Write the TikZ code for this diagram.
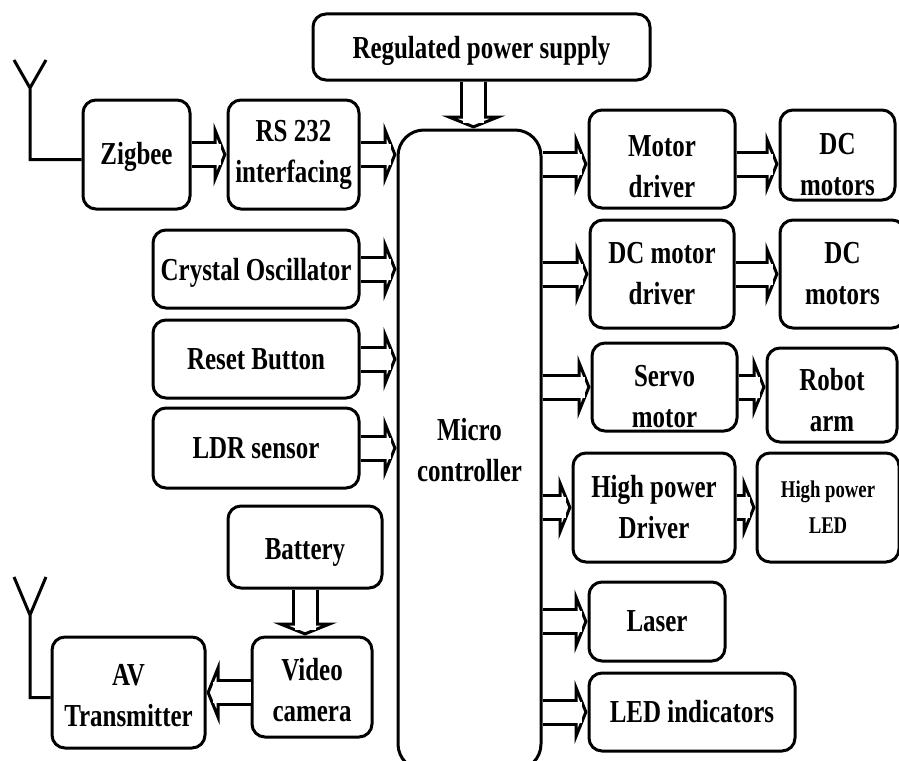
\documentclass[tikz,border=0pt]{standalone}
\usepackage{fontspec}
\setmainfont{Liberation Serif}[FakeStretch=0.78]
\usetikzlibrary{positioning}
\usetikzlibrary{arrows.meta}
\newcommand{\textdrop}[1]{\rule{0pt}{#1pt}}

\begin{document}
\begin{tikzpicture}[x=1pt,y=-1pt,on grid,
        block/.style={draw,line width=3pt,rounded corners=13pt,align=center,inner sep=0pt,
                font=\fontsize{32}{41}\selectfont\bfseries},
        blockarrow/.style={draw=black,line width=27pt,
                -{Triangle[length=13pt,width=64pt,line width=3pt,fill=white]},
                postaction={draw=white,line width=21pt,-,shorten >=6pt}},
        antenna/.style={draw,line width=3pt,line join=miter}]
                \useasboundingbox (0,0) rectangle (899,760);
                \clip (0,0) rectangle (899,760);
                \node[block,minimum width=337pt,minimum height=66pt] (power) at (481.5,47) {\textdrop{30}Regulated power supply};
                \node[block,minimum width=143pt,minimum height=640pt,rounded corners=26pt] (micro) at (469.5,450) {Micro\\controller};
                \node[block,minimum width=107pt,minimum height=109pt] (zigbee) at (136.5,154.5) {\textdrop{28}Zigbee};
                \node[block,minimum width=131pt,minimum height=109pt] [right=157pt of zigbee] (rs) {RS 232\\interfacing};
                \node[block,minimum width=206pt,minimum height=78pt] [below left=114.5pt and 37.5pt of rs] (crystal) {\textdrop{30}Crystal Oscillator};
                \node[block,minimum width=206pt,minimum height=78pt] [below=90pt of crystal] (reset) {Reset Button};
                \node[block,minimum width=206pt,minimum height=80pt] [below=89pt of reset] (ldr) {LDR sensor};
                \node[block,minimum width=154pt,minimum height=82pt] (battery) at (305,547) {\textdrop{32}Battery};
                \node[block,minimum width=120pt,minimum height=100pt] (video) at (312,687) {\textdrop{28}Video\\camera};
                \node[block,minimum width=153pt,minimum height=111pt] (av) at (128.5,692.5) {\textdrop{28}AV\\Transmitter};
                \node[block,minimum width=146pt,minimum height=98pt] (motor) at (662,159) {\textdrop{36}Motor\\driver};
                \node[block,minimum width=115pt,minimum height=90pt] (dca) at (837.5,155) {\textdrop{40}DC\\motors};
                \node[block,minimum width=144pt,minimum height=108pt] [below=115pt of motor] (dcdriver) {DC motor\\driver};
                \node[block,minimum width=125pt,minimum height=108pt] (dcb) at (842.5,274) {DC\\motors};
                \node[block,minimum width=145pt,minimum height=88pt] (servo) at (664.5,387) {\textdrop{40}Servo\\motor};
                \node[block,minimum width=130pt,minimum height=94pt] (robot) at (832,395) {\textdrop{33}Robot\\arm};
                \node[block,minimum width=162pt,minimum height=109pt] (highdriver) at (654,507.5) {High power\\Driver};
                \node[block,minimum width=142pt,minimum height=109pt,font=\fontsize{24}{36}\selectfont\bfseries] [right=174pt of highdriver] (highled) {High power\\LED};
                \node[block,minimum width=136pt,minimum height=79pt] (laser) at (657,621.5) {Laser};
                \node[block,minimum width=206pt,minimum height=78pt] (led) at (692,712) {LED indicators};
                \coordinate (anta) at (30,88);
                \coordinate (antb) at (30,615);
                \path[antenna]
                ([yshift=-5pt]zigbee.west) -| (anta) -- ++(-16,-28)
                (anta) -- ++(16,-28)
                ([yshift=-5pt]av.west) -| (antb) -- ++(-16,-38)
                (antb) -- ++(16,-38);
                \draw[blockarrow] (zigbee) -- (rs);
                \draw[blockarrow] (rs.east) -- (rs.east -| micro.west);
                \draw[blockarrow] (crystal.east) -- (crystal.east -| micro.west);
                \draw[blockarrow] (reset.east) -- (reset.east -| micro.west);
                \draw[blockarrow] (ldr.east) -- (ldr.east -| micro.west);
                \draw[blockarrow] ([xshift=-8pt]power.south) -- ([xshift=-8pt]power.south |- micro.north);
                \draw[blockarrow] (battery.south) -- (battery.south |- video.north);
                \draw[blockarrow] (video.west |- av.east) -- (av.east);
                \draw[blockarrow] ([yshift=-5pt]motor.west -| micro.east) -- ([yshift=-5pt]motor.west);
                \draw[blockarrow] ([yshift=-5pt]motor.east) -- ([yshift=-5pt]motor.east -| dca.west);
                \draw[blockarrow] (dcdriver.west -| micro.east) -- (dcdriver.west);
                \draw[blockarrow] (dcdriver.east) -- (dcb.west);
                \draw[blockarrow] (servo.west -| micro.east) -- (servo.west);
                \draw[blockarrow] (servo.east) -- (servo.east -| robot.west);
                \draw[blockarrow] (highdriver.west -| micro.east) -- (highdriver.west);
                \draw[blockarrow] (highdriver.east) -- (highled.west);
                \draw[blockarrow] (laser.west -| micro.east) -- (laser.west);
                \draw[blockarrow] (led.west -| micro.east) -- (led.west);
            \end{tikzpicture}
\end{document}
